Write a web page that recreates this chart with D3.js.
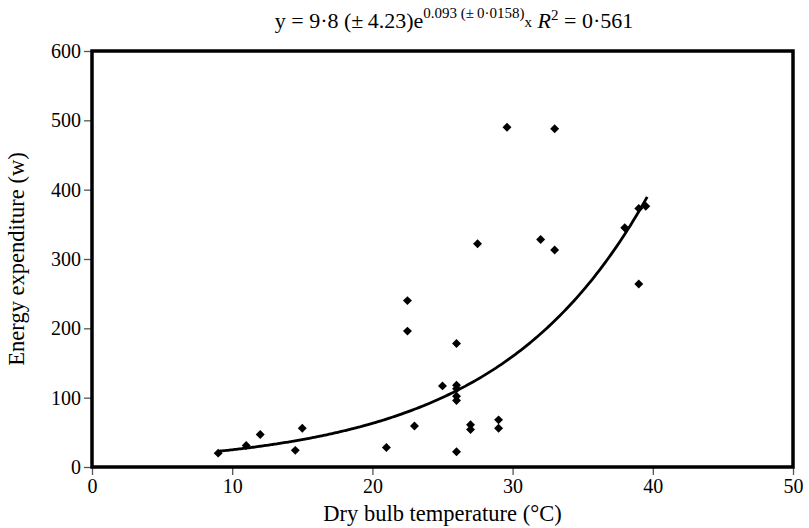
<!DOCTYPE html>
<html>
<head>
<meta charset="utf-8">
<script src="https://cdn.jsdelivr.net/npm/d3@7"></script>
<style>
  body { margin: 0; background: #fff; }
  svg text { font-family: "Liberation Serif", "Times New Roman", Times, serif; fill: #000; }
</style>
</head>
<body>
<div id="chart"></div>
<script>
// dry bulb temperature (°C) and energy expenditure (w)
const temps  = [9, 11, 12, 14.5, 15, 21, 23, 22.5, 22.5, 25, 26, 26, 26, 26, 26, 26,
                27, 27, 29, 29, 27.5, 29.6, 32, 33, 33, 38, 39, 39.5, 39];
const energy = [20, 31, 47, 24, 56, 28, 59, 196, 240, 117, 118, 113, 102, 96, 178, 22,
                61, 54, 68, 56, 322, 490, 328, 313, 488, 345, 373, 376, 264];

const xTicks = [0, 10, 20, 30, 40, 50];
const yTicks = [0, 100, 200, 300, 400, 500, 600];

// fitted model printed in the title: y = a * e^(b x)
const fitA = 9.8, fitB = 0.093;
const fitRange = [9, 39.6];

const width = 809, height = 528;
const margin = {top: 51, right: 16, bottom: 61, left: 92};
const serif = "'Liberation Serif', 'Times New Roman', serif";

const svg = d3.select("#chart").append("svg")
    .attr("width", width)
    .attr("height", height);

const x = d3.scaleLinear().domain([0, 50]).range([margin.left, width - margin.right]);
const y = d3.scaleLinear().domain([0, 600]).range([height - margin.bottom, margin.top]);

// axes (ticks + labels)
const xAxis = svg.append("g")
    .attr("transform", "translate(0," + y(0) + ")")
    .call(d3.axisBottom(x).tickValues(xTicks).tickSize(8).tickPadding(4).tickFormat(d3.format("d")));
const yAxis = svg.append("g")
    .attr("transform", "translate(" + x(0) + ",0)")
    .call(d3.axisLeft(y).tickValues(yTicks).tickSize(8).tickPadding(3).tickFormat(d3.format("d")));

[xAxis, yAxis].forEach(g => {
    g.attr("font-family", serif);
    g.select(".domain").remove();
    g.selectAll(".tick line").attr("stroke", "#555").attr("stroke-width", 1.3);
    g.selectAll(".tick text").style("font-family", serif).style("font-size", "20px");
});

// frame
svg.append("rect")
    .attr("x", x(0))
    .attr("y", y(600))
    .attr("width", x(50) - x(0))
    .attr("height", y(0) - y(600))
    .attr("fill", "none")
    .attr("stroke", "#000")
    .attr("stroke-width", 3.5);

// fitted curve
const fitX = d3.range(fitRange[0], fitRange[1] + 0.001, 0.2);
const line = d3.line()
    .x(d => x(d))
    .y(d => y(fitA * Math.exp(fitB * d)))
    .curve(d3.curveMonotoneX);

svg.append("path")
    .datum(fitX)
    .attr("d", line)
    .attr("fill", "none")
    .attr("stroke", "#000")
    .attr("stroke-width", 2.8);

// points (diamonds)
const diamond = d3.symbol().type(d3.symbolSquare).size(40);
svg.selectAll(".pt")
    .data(temps.map((t, i) => ({t: t, e: energy[i]})))
    .enter().append("path")
    .attr("class", "pt")
    .attr("d", diamond)
    .attr("transform", d => "translate(" + x(d.t) + "," + y(d.e) + ") rotate(45)")
    .attr("fill", "#000");

// axis titles
svg.append("text")
    .attr("x", (x(0) + x(50)) / 2)
    .attr("y", 521)
    .attr("text-anchor", "middle")
    .style("font-family", serif)
    .style("font-size", "22.5px")
    .text("Dry bulb temperature (°C)");

svg.append("text")
    .attr("transform", "translate(24," + ((y(0) + y(600)) / 2) + ") rotate(-90)")
    .attr("text-anchor", "middle")
    .style("font-family", serif)
    .style("font-size", "22.5px")
    .text("Energy expenditure (w)");

// equation title
const title = svg.append("text")
    .attr("x", 454)
    .attr("y", 28)
    .attr("text-anchor", "middle")
    .style("font-family", serif)
    .style("font-size", "22px");
title.append("tspan").text("y = 9·8 (±\u20094.23)e");
title.append("tspan").style("font-size", "15px").attr("dy", -10).text("0.093 (±\u20090·0158)");
title.append("tspan").style("font-size", "15px").attr("dy", 9).text("x");
title.append("tspan").attr("dy", 1).text(" ");
title.append("tspan").style("font-style", "italic").text("R");
title.append("tspan").style("font-size", "15px").attr("dy", -8).text("2");
title.append("tspan").attr("dy", 8).text(" = 0·561");
</script>
</body>
</html>
